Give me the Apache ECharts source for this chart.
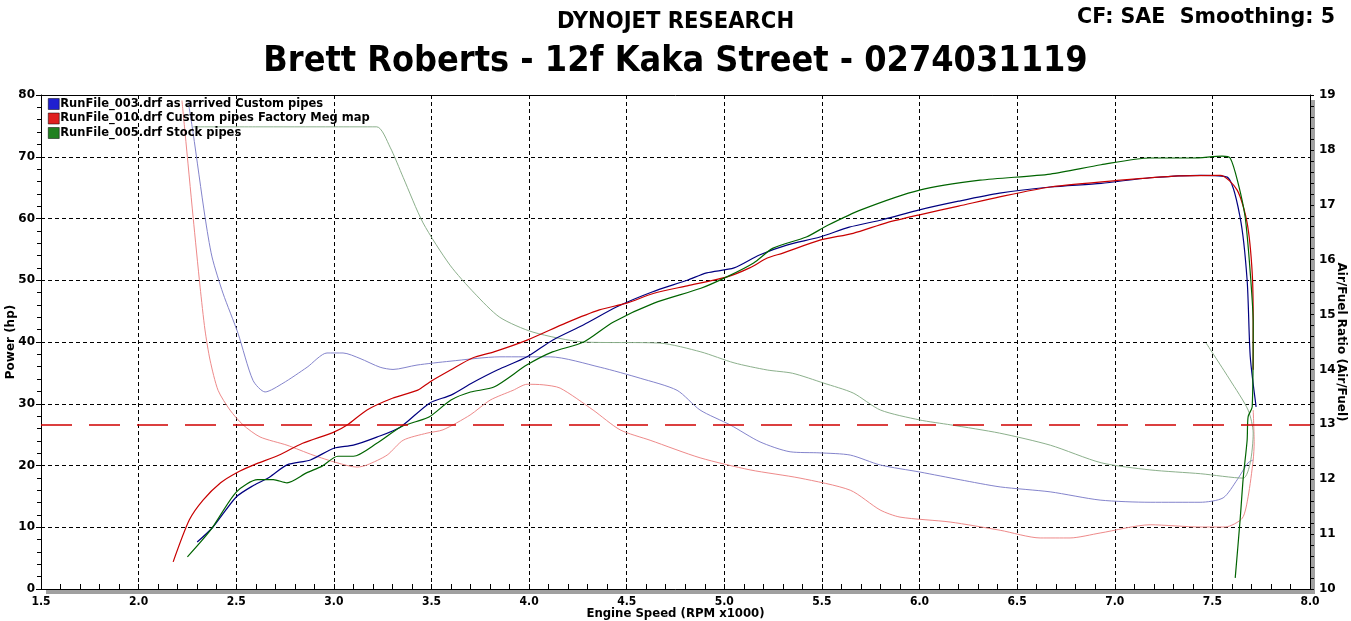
<!DOCTYPE html>
<html>
<head>
<meta charset="utf-8">
<script src="https://cdn.jsdelivr.net/npm/echarts@6/dist/echarts.min.js"></script>
<style>
html,body{margin:0;padding:0;background:#fff;}
#c{width:1351px;height:621px;}
</style>
</head>
<body>
<div id="c"></div>
<script>
// ---------------- DATA ----------------
const runNames = [
  'RunFile_003.drf as arrived Custom pipes',
  'RunFile_010.drf Custom pipes Factory Meg map',
  'RunFile_005.drf Stock pipes'
];

// Power (hp) vs RPM x1000
const pwr003_rpm = [2.30,2.38,2.50,2.59,2.67,2.76,2.88,3.00,3.10,3.22,3.34,3.49,3.60,3.71,3.84,3.99,4.12,4.28,4.45,4.63,4.81,4.91,5.05,5.18,5.32,5.49,5.64,5.81,6.00,6.20,6.41,6.67,6.93,7.18,7.44,7.576,7.642,7.678,7.694,7.724];
const pwr003_hp  = [7.6,10.0,14.9,16.8,18.1,20.1,20.9,22.8,23.3,24.6,26.2,30.1,31.4,33.4,35.5,37.6,40.3,42.8,45.7,48.1,50.0,51.2,52.0,54.1,55.7,57.0,58.6,59.8,61.4,62.8,64.1,65.1,65.7,66.6,67.0,66.7,60.2,50.0,37.6,29.5];

const pwr010_rpm = [2.177,2.26,2.33,2.42,2.50,2.59,2.72,2.84,3.00,3.07,3.17,3.30,3.43,3.49,3.60,3.71,3.82,3.99,4.19,4.36,4.50,4.64,4.81,5.01,5.13,5.22,5.30,5.49,5.66,5.83,6.00,6.20,6.41,6.67,7.03,7.33,7.54,7.627,7.678,7.704,7.709,7.709];
const pwr010_hp  = [4.4,11.2,14.4,17.2,18.8,20.1,21.7,23.6,25.4,26.6,29.0,30.9,32.2,33.5,35.5,37.4,38.4,40.3,43.1,45.2,46.3,47.9,49.1,50.5,52.0,53.6,54.4,56.5,57.6,59.3,60.6,62.0,63.5,65.1,66.2,66.9,67.0,64.6,59.3,51.2,43.1,35.5];

const pwr005_rpm = [2.25,2.37,2.50,2.61,2.69,2.76,2.86,2.94,3.02,3.10,3.22,3.34,3.41,3.49,3.60,3.70,3.82,3.99,4.12,4.28,4.43,4.64,4.88,5.01,5.15,5.25,5.42,5.53,5.70,6.00,6.31,6.67,6.93,7.18,7.40,7.55,7.591,7.632,7.668,7.694,7.709,7.704,7.683,7.678,7.658,7.642,7.617];
const pwr005_hp  = [5.2,9.6,15.7,17.7,17.7,17.2,18.8,19.9,21.5,21.5,23.6,26.2,27.0,27.9,30.6,31.9,32.7,36.3,38.4,40.0,43.2,46.3,48.7,50.5,52.8,55.2,57.0,58.9,61.4,64.6,66.2,67.2,68.7,69.8,69.8,70.1,69.8,65.7,60.2,51.2,43.1,29.5,27.9,24.1,18.0,11.2,1.8];

// Air/Fuel ratio vs RPM x1000
const afr003_rpm = [2.253,2.279,2.34,2.376,2.432,2.509,2.586,2.648,2.74,2.863,2.965,3.047,3.134,3.237,3.303,3.426,3.595,3.851,4.108,4.364,4.569,4.758,4.876,5.03,5.183,5.337,5.49,5.645,5.798,6.003,6.208,6.413,6.669,6.925,7.181,7.437,7.555,7.627,7.683,7.709];
const afr003_val = [18.9,18.31,16.78,16.05,15.39,14.66,13.8,13.59,13.75,14.04,14.3,14.3,14.2,14.04,14.0,14.08,14.15,14.23,14.23,14.04,13.84,13.62,13.26,12.99,12.68,12.5,12.48,12.44,12.26,12.13,11.99,11.86,11.77,11.62,11.58,11.58,11.66,11.99,12.3,12.35];

const afr010_rpm = [2.222,2.238,2.279,2.315,2.34,2.366,2.407,2.468,2.535,2.622,2.76,2.893,3.016,3.119,3.17,3.273,3.355,3.477,3.559,3.698,3.80,3.918,3.99,4.072,4.159,4.328,4.466,4.62,4.876,5.132,5.388,5.645,5.798,5.90,6.157,6.413,6.618,6.771,6.925,7.181,7.437,7.566,7.653,7.683,7.709,7.714,7.709];
const afr010_val = [18.9,18.31,16.78,15.5,14.72,14.17,13.62,13.26,12.99,12.77,12.62,12.44,12.30,12.22,12.26,12.44,12.71,12.84,12.90,13.17,13.44,13.62,13.73,13.72,13.66,13.26,12.9,12.71,12.39,12.17,12.02,11.8,11.44,11.31,11.22,11.07,10.93,10.93,11.02,11.17,11.13,11.13,11.29,11.68,12.35,12.66,13.26];

const afr005_rpm = [2.28,2.60,3.00,3.22,3.288,3.355,3.457,3.595,3.72,3.85,4.02,4.28,4.67,4.88,5.05,5.22,5.35,5.51,5.66,5.80,6.00,6.16,6.41,6.67,6.93,7.18,7.44,7.658,7.694,7.709,7.683,7.59,7.468];
const afr005_val = [18.42,18.42,18.42,18.42,18.05,17.5,16.67,15.9,15.39,14.95,14.68,14.50,14.48,14.32,14.12,13.99,13.93,13.75,13.57,13.26,13.08,12.99,12.84,12.62,12.3,12.17,12.1,12.02,12.3,12.84,13.26,13.81,14.48];

const AFR_TARGET = 13;

// axis tick settings
const rpmTicks = {min:1.5, max:8.0, step:0.5};
const hpTicks  = {min:0, max:80, step:10};
const afrTicks = {min:10, max:19, step:1};

// ---------------- CHART ----------------
const zip = (xs, ys) => xs.map((x, i) => [x, ys[i]]);
const FONT = "'DejaVu Sans Condensed','DejaVu Sans',Verdana,sans-serif";
const FONT2 = "'DejaVu Sans',Verdana,sans-serif";

const colPower = ['#000080', '#c80000', '#006400'];
const colAfr   = ['#8484cc', '#ee8a8a', '#8cb08c'];
const legendCol = ['#2020d0', '#e02020', '#208020'];

const chart = echarts.init(document.getElementById('c'), null, {renderer:'canvas'});

const powerSeries = [[pwr003_rpm,pwr003_hp],[pwr010_rpm,pwr010_hp],[pwr005_rpm,pwr005_hp]];
const afrSeries = [[afr003_rpm,afr003_val],[afr010_rpm,afr010_val],[afr005_rpm,afr005_val]];

const series = [];
afrSeries.forEach((s, i) => {
  series.push({
    name: runNames[i], type:'line', yAxisIndex:1, showSymbol:false, symbol:'none',
    smooth:0.25, data: zip(s[0], s[1]), z:2,
    lineStyle:{color:colAfr[i], width:1}, itemStyle:{color:colAfr[i]},
    emphasis:{disabled:true}, animation:false
  });
});
powerSeries.forEach((s, i) => {
  series.push({
    name: runNames[i], type:'line', yAxisIndex:0, showSymbol:false, symbol:'none',
    smooth:0.25, data: zip(s[0], s[1]), z:3,
    lineStyle:{color:colPower[i], width:1.2}, itemStyle:{color:colPower[i]},
    emphasis:{disabled:true}, animation:false
  });
});
// AFR target dashed line
series[0].markLine = {
  silent:true, symbol:'none', animation:false,
  label:{show:false},
  lineStyle:{color:'#d00000', width:1.5, type:[31,17]},
  data:[{yAxis: AFR_TARGET}]
};

const option = {
  backgroundColor:'#fff',
  animation:false,
  title:[
    {text:'DYNOJET RESEARCH', left:'center', top:5,
     textStyle:{fontSize:23.5, fontWeight:'bold', color:'#000', fontFamily:FONT}},
    {text:'Brett Roberts - 12f Kaka Street - 0274031119', left:'center', top:39,
     textStyle:{fontSize:35.7, fontWeight:'bold', color:'#000', fontFamily:FONT}},
    {text:'CF: SAE  Smoothing: 5', right:11, top:2,
     textStyle:{fontSize:20.6, fontWeight:'bold', color:'#000', fontFamily:FONT2}}
  ],
  legend:{
    orient:'vertical', left:48, top:98, padding:0, itemWidth:11, itemHeight:11, itemGap:2.5,
    icon:'rect', selectedMode:false,
    textStyle:{fontSize:11.5, fontWeight:'bold', color:'#000', fontFamily:FONT2, padding:[0,0,0,-4]},
    data: runNames.map((n, i) => ({name:n, itemStyle:{color:legendCol[i], borderColor:'#000', borderWidth:0.5}}))
  },
  grid:{
    left:41, right:41, top:95, bottom:32, show:true, containLabel:false, outerBoundsMode:'none',
    backgroundColor:'#fff', borderWidth:0,
    shadowColor:'#a0a0a0', shadowOffsetX:5, shadowOffsetY:5, shadowBlur:0
  },
  xAxis:[{
    type:'value', min:rpmTicks.min, max:rpmTicks.max, interval:rpmTicks.step,
    name:'Engine Speed (RPM x1000)', nameLocation:'middle', nameGap:18, nameMoveOverlap:false,
    nameTextStyle:{fontSize:13, fontWeight:'bold', color:'#000', fontFamily:FONT},
    axisLine:{show:true, onZero:false, lineStyle:{color:'#000', width:1}},
    axisTick:{show:true, inside:true, length:5, lineStyle:{color:'#000'}},
    minorTick:{show:true, splitNumber:5, length:5, lineStyle:{color:'#000'}},
    axisLabel:{fontSize:12, fontWeight:'bold', color:'#000', fontFamily:FONT, margin:7,
      formatter: v => v.toFixed(1)},
    splitLine:{show:true, lineStyle:{color:'#000', type:[4,3], width:1}}
  },{
    type:'value', min:rpmTicks.min, max:rpmTicks.max, interval:rpmTicks.step, position:'top',
    axisLine:{show:true, onZero:false, lineStyle:{color:'#000', width:1}},
    axisTick:{show:false}, axisLabel:{show:false}, splitLine:{show:false}
  }],
  yAxis:[
    {type:'value', min:hpTicks.min, max:hpTicks.max, interval:hpTicks.step, position:'left',
     name:'Power (hp)', nameLocation:'middle', nameGap:24, nameRotate:90, nameMoveOverlap:false,
     nameTextStyle:{fontSize:12, fontWeight:'bold', color:'#000', fontFamily:FONT2},
     axisLine:{show:true, lineStyle:{color:'#000'}},
     axisTick:{show:true, inside:false, length:5, lineStyle:{color:'#000'}},
     minorTick:{show:true, splitNumber:5, length:4, lineStyle:{color:'#000'}},
     axisLabel:{fontSize:12, fontWeight:'bold', color:'#000', fontFamily:FONT2, margin:6},
     splitLine:{show:true, lineStyle:{color:'#000', type:[4,3], width:1}}},
    {type:'value', min:afrTicks.min, max:afrTicks.max, interval:afrTicks.step, position:'right',
     name:'Air/Fuel Ratio (Air/Fuel)', nameLocation:'middle', nameGap:25, nameRotate:-90, nameMoveOverlap:false,
     nameTextStyle:{fontSize:12, fontWeight:'bold', color:'#000', fontFamily:FONT2},
     axisLine:{show:true, lineStyle:{color:'#000'}},
     axisTick:{show:true, inside:false, length:4, lineStyle:{color:'#000'}},
     minorTick:{show:true, splitNumber:5, length:4, lineStyle:{color:'#000'}},
     axisLabel:{fontSize:12, fontWeight:'bold', color:'#000', fontFamily:FONT2, margin:9},
     splitLine:{show:false}}
  ],
  series: series
};
chart.setOption(option);
</script>
</body>
</html>
